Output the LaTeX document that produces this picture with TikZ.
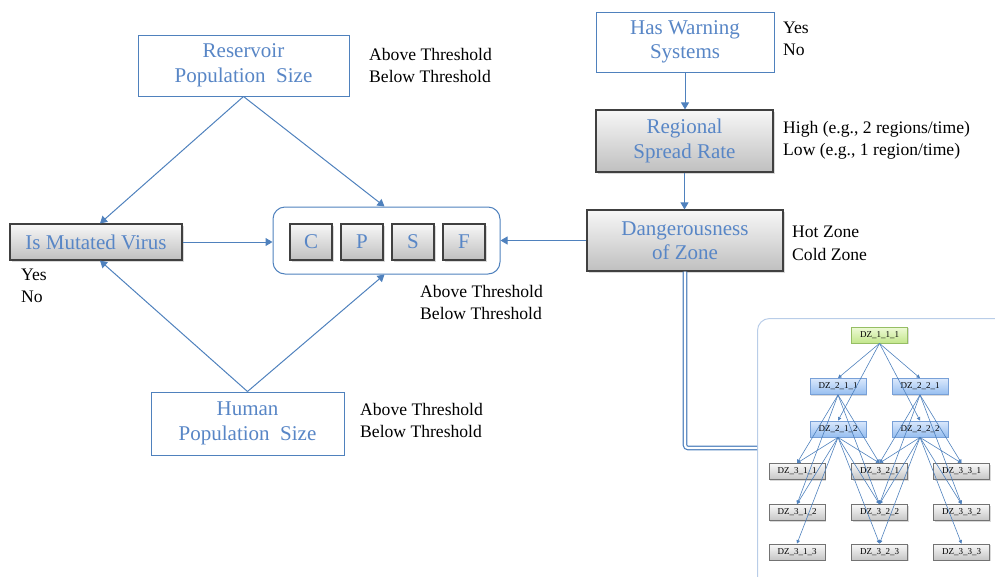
\documentclass[tikz,border=0pt]{standalone}
\usepackage{fontspec}
\setmainfont{Liberation Serif}
\usetikzlibrary{arrows.meta,shadows,calc}
\definecolor{bl}{RGB}{79,129,189}
\definecolor{bltext}{RGB}{88,134,198}
\definecolor{treeb}{RGB}{185,205,232}
\definecolor{tbtop}{RGB}{218,232,252}
\definecolor{tbbot}{RGB}{150,190,240}
\definecolor{tbdraw}{RGB}{120,160,215}
\definecolor{tgtop}{RGB}{238,250,215}
\definecolor{tgbot}{RGB}{195,230,140}
\definecolor{tgdraw}{RGB}{150,190,100}
\tikzset{
  wbox/.style={draw=bl, line width=1pt, fill=white, text=bltext, align=center,
    font=\fontsize{21}{24.5}\selectfont, inner sep=0pt},
  gbox/.style={draw=black!75, line width=1.2pt, top color=gray!6, bottom color=gray!50,
    text=bltext, align=center, font=\fontsize{21}{24.5}\selectfont, inner sep=0pt,
    drop shadow={shadow xshift=2pt, shadow yshift=-2pt, opacity=0.3}},
  lbl/.style={anchor=base west, inner sep=0pt, font=\fontsize{17.6}{22}\selectfont},
  conn/.style={draw=bl, line width=1pt, -{Triangle[length=7pt,width=8pt]}},
  tnode/.style={minimum width=56pt, minimum height=16pt, inner sep=0pt,
    font=\fontsize{9}{10}\selectfont, line width=0.8pt,
    drop shadow={shadow xshift=1pt, shadow yshift=-1pt, opacity=0.3}},
  tgreen/.style={tnode, draw=tgdraw, top color=tgtop, bottom color=tgbot},
  tblue/.style={tnode, draw=tbdraw, top color=tbtop, bottom color=tbbot},
  tgray/.style={tnode, draw=gray!90!black, top color=gray!5, bottom color=gray!45},
  tedge/.style={draw=bl, line width=0.6pt, -{Triangle[length=3.5pt,width=3.5pt]}},
}
\begin{document}
\begin{tikzpicture}[x=1pt,y=-1pt]
\useasboundingbox (0,0) rectangle (995,576);
\clip (0,0) rectangle (995,576);

% left part
\node[wbox, minimum width=211pt, minimum height=61pt] (res) at (243.5,65.5) {Reservoir\\Population\ \ Size};
\node[gbox, minimum width=172pt, minimum height=36pt] (imv) at (96,242) {Is Mutated Virus};
\node[draw=bl, line width=1pt, rounded corners=12pt, minimum width=227pt, minimum height=67pt] (cpsf) at (386.5,240.5) {};
\node[gbox, minimum width=42pt, minimum height=36pt] (c) at (311,242) {C};
\node[gbox, minimum width=42pt, minimum height=36pt] (p) at (362,242) {P};
\node[gbox, minimum width=42pt, minimum height=36pt] (s) at (413,242) {S};
\node[gbox, minimum width=42pt, minimum height=36pt] (f) at (464,242) {F};
\node[wbox, minimum width=193pt, minimum height=63pt] (hum) at (247.5,423.5) {Human\\Population\ \ Size};

% right part
\node[wbox, minimum width=178pt, minimum height=60pt] (hws) at (685,42) {Has Warning\\Systems};
\node[gbox, minimum width=177pt, minimum height=62pt] (rsr) at (684.5,141) {Regional\\Spread Rate};
\node[gbox, minimum width=196pt, minimum height=61pt] (dz) at (685,240.5) {Dangerousness\\of Zone};

% labels
\node[lbl] (l1) at (369,60) {Above Threshold};
\node[lbl] (l2) at (369,82) {Below Threshold};
\node[lbl] (l3) at (420,297) {Above Threshold};
\node[lbl] (l4) at (420,319) {Below Threshold};
\node[lbl] (l5) at (360,415) {Above Threshold};
\node[lbl] (l6) at (360,437) {Below Threshold};
\node[lbl] (l7) at (21,280) {Yes};
\node[lbl] (l8) at (21,302) {No};
\node[lbl] (l9) at (783,33) {Yes};
\node[lbl] (l10) at (783,55) {No};
\node[lbl] (l11) at (783,133) {High (e.g., 2 regions/time)};
\node[lbl] (l12) at (783,155) {Low (e.g., 1 region/time)};
\node[lbl] (l13) at (792,237) {Hot Zone};
\node[lbl] (l14) at (792,260) {Cold Zone};

% connectors
\draw[conn] (res.south) -- ([xshift=4pt]imv.north);
\draw[conn] (res.south) -- ([xshift=-2pt]cpsf.north);
\draw[conn] (hum.north) -- ([xshift=4pt]imv.south);
\draw[conn] (hum.north) -- ([xshift=-2pt]cpsf.south);
\draw[conn] (imv.east) -- (imv.east -| cpsf.west);
\draw[conn] (dz.west) -- (dz.west -| cpsf.east);
\draw[conn] (hws.south) -- (rsr.north -| hws.south);
\draw[conn] (rsr.south) -- (dz.north -| rsr.south);

% tree container
\node[draw=treeb, line width=1pt, rounded corners=12pt, minimum width=260pt, minimum height=280pt, anchor=north west] (tree) at (757,318) {};
\draw[draw=bl, line width=1.2pt, double=white, double distance=2.2pt, rounded corners=3pt]
  (dz.south) |- (tree.west |- 0,448);

% tree nodes
\node[tgreen] (t111) at (879.5,335) {DZ\_1\_1\_1};
\node[tblue] (t211) at (838,386.5) {DZ\_2\_1\_1};
\node[tblue] (t221) at (920,386.5) {DZ\_2\_2\_1};
\node[tblue] (t212) at (838,429) {DZ\_2\_1\_2};
\node[tblue] (t222) at (920,429) {DZ\_2\_2\_2};
\node[tgray] (t311) at (797,471.5) {DZ\_3\_1\_1};
\node[tgray] (t321) at (879.5,471.5) {DZ\_3\_2\_1};
\node[tgray] (t331) at (961.5,471.5) {DZ\_3\_3\_1};
\node[tgray] (t312) at (797,512.5) {DZ\_3\_1\_2};
\node[tgray] (t322) at (879.5,512.5) {DZ\_3\_2\_2};
\node[tgray] (t332) at (961.5,512.5) {DZ\_3\_3\_2};
\node[tgray] (t313) at (797,552) {DZ\_3\_1\_3};
\node[tgray] (t323) at (879.5,552) {DZ\_3\_2\_3};
\node[tgray] (t333) at (961.5,552) {DZ\_3\_3\_3};

% tree edges
\foreach \t in {t211,t221,t212,t222} \draw[tedge] (t111.south) -- (\t.north);
\foreach \t in {t311,t312,t321,t322} \draw[tedge] (t211.south) -- (\t.north);
\foreach \t in {t311,t312,t313,t321,t322,t323} \draw[tedge] (t212.south) -- (\t.north);
\foreach \t in {t321,t322,t331,t332} \draw[tedge] (t221.south) -- (\t.north);
\foreach \t in {t321,t322,t323,t331,t332,t333} \draw[tedge] (t222.south) -- (\t.north);
\end{tikzpicture}
\end{document}
